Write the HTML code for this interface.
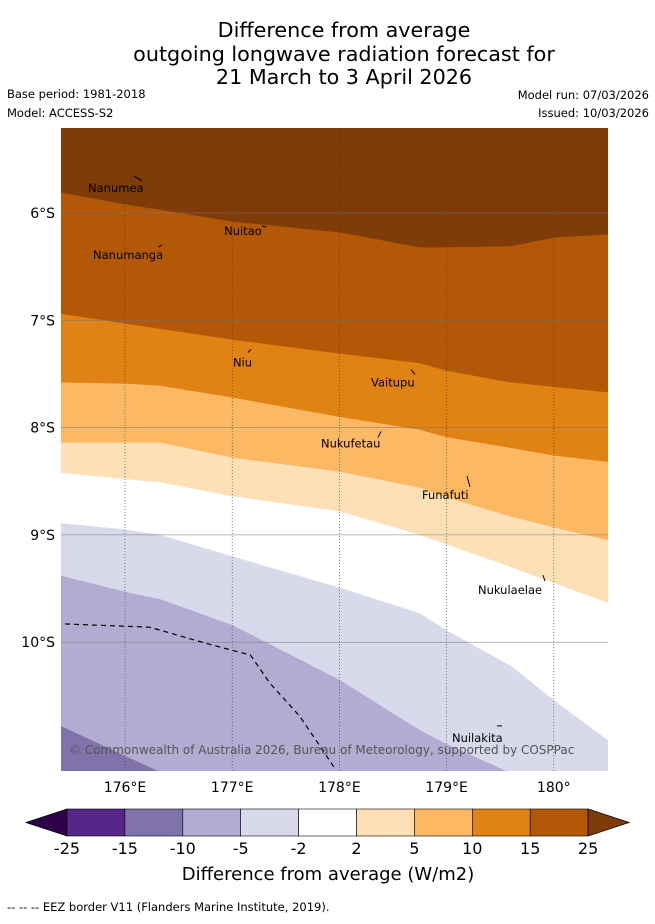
<!DOCTYPE html>
<html><head><meta charset="utf-8"><style>
body{margin:0;background:#fff;width:655px;height:919px;overflow:hidden;font-family:"Liberation Sans","DejaVu Sans",sans-serif}
svg text{font-family:"DejaVu Sans","Liberation Sans",sans-serif}
</style></head><body>
<svg id="chart" width="655" height="919" xmlns="http://www.w3.org/2000/svg">
<g font-size="20.7" text-anchor="middle" fill="#000">
<text x="344" y="37">Difference from average</text>
<text x="344" y="61">outgoing longwave radiation forecast for</text>
<text x="344" y="84">21 March to 3 April 2026</text>
</g>
<g font-size="11.5" fill="#000">
<text x="7" y="98">Base period: 1981-2018</text>
<text x="7" y="117">Model: ACCESS-S2</text>
<text x="649" y="99" text-anchor="end">Model run: 07/03/2026</text>
<text x="649" y="117" text-anchor="end">Issued: 10/03/2026</text>
</g>
<defs><clipPath id="mapclip"><rect x="61" y="128" width="547" height="643"/></clipPath></defs>
<g id="fills" clip-path="url(#mapclip)"></g>
<g id="grid" clip-path="url(#mapclip)"></g>
<path id="eez" fill="none" stroke="#000" stroke-width="1.2" stroke-dasharray="5,4"/>
<g id="islands" font-size="11.5" fill="#000"></g>
<text x="69" y="754" font-size="12" fill="#555">© Commonwealth of Australia 2026, Bureau of Meteorology, supported by COSPPac</text>
<g id="xaxis" font-size="14" text-anchor="middle"></g>
<g id="yaxis" font-size="14" text-anchor="end"></g>
<g id="cbar"></g>
<text x="328" y="880" font-size="18" text-anchor="middle">Difference from average (W/m2)</text>
<text x="7" y="911" font-size="11.5">--  --  -- EEZ border V11 (Flanders Marine Institute, 2019).</text>
</svg>
<script>
const lons=[175.4,176,176.33,177,178,178.75,179,179.6,180,180.5];
const b25=[5.81,5.92,5.97,6.08,6.18,6.32,6.32,6.31,6.23,6.20];
const b15=[6.94,7.03,7.08,7.18,7.31,7.40,7.47,7.58,7.62,7.67];
const b10=[7.58,7.59,7.61,7.72,7.90,8.02,8.09,8.19,8.26,8.32];
const b5=[8.14,8.14,8.14,8.28,8.41,8.56,8.65,8.83,8.93,9.05];
const b2=[8.42,8.48,8.51,8.64,8.78,9.00,9.09,9.30,9.45,9.63];
const bm2=[8.89,8.95,9.00,9.20,9.49,9.73,9.89,10.22,10.54,10.91];
const bm5=[9.38,9.53,9.60,9.84,10.35,10.82,10.95,11.22,11.5,11.7];
const bm10=[10.78,11.06,11.21,11.40,11.60,11.70,11.70,11.70,11.70,11.70];
const levels=[-25,-15,-10,-5,-2,2,5,10,15,25];
const colors=["#542788","#8073ac","#b2abd2","#d8daeb","#ffffff","#fee0b6","#fdb863","#e08214","#b35806"];
const eezLon=[175.44,176.23,176.51,176.79,177.17,177.35,177.63,177.82,177.96];
const eezLat=[9.83,9.86,9.94,10.02,10.12,10.38,10.69,10.97,11.18];
const islands=["Nanumea","Nuitao","Nanumanga","Niu","Vaitupu","Nukufetau","Funafuti","Nukulaelae","Nuilakita"];
const islandLon=[176.084,177.279,176.308,177.147,178.668,178.388,179.19,179.899,179.47];
const islandLat=[5.655,6.121,6.317,7.30,7.458,8.036,8.45,9.375,10.78];
const xTicks=[176,177,178,179,180];
const xLabels=["176°E","177°E","178°E","179°E","180°"];
const yTicks=[6,7,8,9,10];
const yLabels=["6°S","7°S","8°S","9°S","10°S"];
const X=l=>125+(l-176)*107.2;
const Y=s=>213+(s-6)*107.3;
const NS="http://www.w3.org/2000/svg";
function mk(t,a,p){const e=document.createElementNS(NS,t);for(const k in a)e.setAttribute(k,a[k]);p.appendChild(e);return e;}
const fills=document.getElementById('fills');
const bg=mk('rect',{x:61,y:128,width:547,height:643,fill:"#8073ac"},fills);


const bounds=[bm10,bm5,bm2,b2,b5,b10,b15,b25];
const fcol=["#b2abd2","#d8daeb","#ffffff","#fee0b6","#fdb863","#e08214","#b35806","#7f3b08"];
bounds.forEach((b,i)=>{
 let d="M"+X(lons[0])+","+Y(b[0]);
 for(let j=1;j<lons.length;j++)d+=" L"+X(lons[j])+","+Y(b[j]);
 d+=" L620,"+Y(b[b.length-1])+" L620,100 L40,100 L40,"+Y(b[0])+" Z";
 const p=mk('path',{d:d,fill:fcol[i]},fills);
 
 
});
const grid=document.getElementById('grid');
xTicks.forEach(t=>{const l=mk('line',{x1:X(t),x2:X(t),y1:128,y2:771,stroke:"#333",'stroke-width':0.6,'stroke-dasharray':"1,2"},grid);

});
yTicks.forEach(t=>{const l=mk('line',{x1:61,x2:608,y1:Y(t),y2:Y(t),stroke:"#777",'stroke-width':0.5},grid);

});
const xa=document.getElementById('xaxis');
xTicks.forEach((t,i)=>{const e=mk('text',{x:X(t),y:792},xa);e.textContent=xLabels[i];

});
const ya=document.getElementById('yaxis');
yTicks.forEach((t,i)=>{const e=mk('text',{x:55,y:Y(t)+5},ya);e.textContent=yLabels[i];

});
let ed="";eezLon.forEach((l,i)=>{ed+=(i?" L":"M")+X(l)+","+Y(eezLat[i]);});
document.getElementById('eez').setAttribute('d',ed);
const isl=document.getElementById('islands');
const offs=[[-46,16],[-38,9],[-65,12],[-15,14],[-40,17],[-60,16],[-45,23],[-65,19],[-45,16]];
const mdel=[[8,5],[4,1],[4,-2],[3,-3],[4,5],[-3,6],[3,11],[2,6],[5,0]];
islands.forEach((n,i)=>{const x=X(islandLon[i]),y=Y(islandLat[i]);
 const ln=mk('line',{x1:x,y1:y,x2:x+mdel[i][0],y2:y+mdel[i][1],stroke:"#000",'stroke-width':1},isl);
 
 
 const t=mk('text',{x:x+offs[i][0],y:y+offs[i][1]},isl);t.textContent=n;
 
 });
const cb=document.getElementById('cbar');
const cx0=67,cw=57.9,cy=809,ch=27;
const la=mk('polygon',{points:`26,822.5 ${cx0},${cy} ${cx0},${cy+ch}`,fill:"#2d004b",stroke:"#000",'stroke-width':0.8},cb);


colors.forEach((c,i)=>{const r=mk('rect',{x:cx0+i*cw,y:cy,width:cw,height:ch,fill:c,stroke:"#000",'stroke-width':0.6},cb);

});
const xe=cx0+colors.length*cw;
const ra=mk('polygon',{points:`${xe},${cy} 629,822.5 ${xe},${cy+ch}`,fill:"#7f3b08",stroke:"#000",'stroke-width':0.8},cb);


levels.forEach((v,i)=>{const t=mk('text',{x:cx0+i*cw,y:854,'font-size':16,'text-anchor':'middle'},cb);t.textContent=v;

});
</script>
</body></html>
